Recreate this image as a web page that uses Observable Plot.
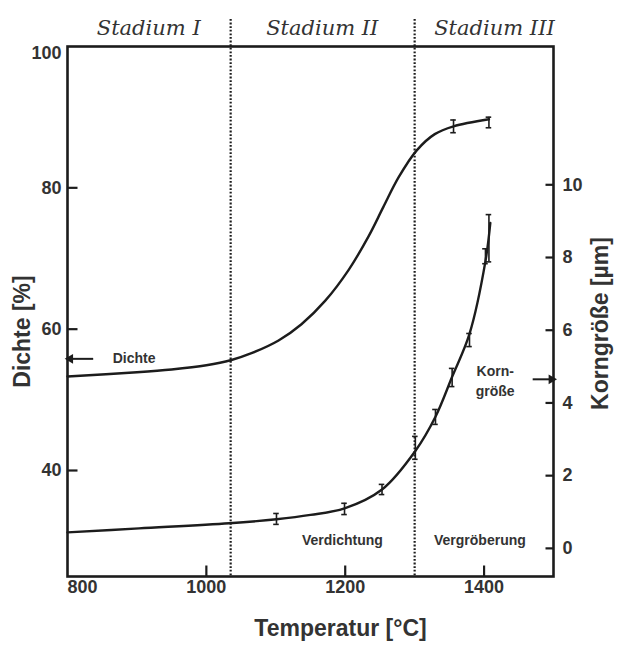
<!DOCTYPE html>
<html><head><meta charset="utf-8">
<script src="https://cdn.jsdelivr.net/npm/d3@7"></script>
<script src="https://cdn.jsdelivr.net/npm/@observablehq/plot@0.6"></script>
<style>
html,body{margin:0;padding:0;background:#fff}
</style>
</head><body><div id="chart"></div>
<script>
// ---- data ----
const densT = [800, 900, 950, 1000, 1035, 1065, 1104, 1137, 1171, 1205, 1234, 1255, 1277, 1303, 1329, 1356, 1407];
const densV = [53.3, 53.9, 54.3, 54.9, 55.6, 56.6, 58.4, 60.7, 64.0, 68.4, 73.2, 77.3, 81.5, 85.3, 87.6, 88.7, 89.7];
const densErrT = [1356, 1407];
const densErrLo = [87.8, 88.5];
const densErrHi = [89.6, 90.0];

const grainT = [800, 903, 1033, 1101, 1150, 1199, 1253, 1301, 1330, 1354, 1379, 1402, 1409];
const grainV = [0.44, 0.55, 0.69, 0.80, 0.92, 1.10, 1.62, 2.68, 3.62, 4.72, 5.9, 7.9, 8.95];
const grainErrT = [1101, 1199, 1253, 1301, 1330, 1354, 1379, 1402, 1407];
const grainErrLo = [0.66, 0.93, 1.48, 2.45, 3.41, 4.45, 5.55, 7.83, 7.88];
const grainErrHi = [0.96, 1.24, 1.76, 3.08, 3.82, 4.95, 5.91, 8.24, 9.18];

const stageNames = ["Stadium I", "Stadium II", "Stadium III"];
const stageLabelT = [917, 1167, 1415];
const stageBounds = [1035, 1300];

const xTicks = [800, 1000, 1200, 1400];
const yTicks = [40, 60, 80, 100];
const gTicks = [0, 2, 4, 6, 8, 10];

const xDomain = [800, 1500];
const yDomain = [25, 100];
// right axis (Korngröße, µm) aligned to the left axis (Dichte, %)
const gDomain = [0, 10];
const gOnD = [28.98, 80.43];

const dichteLabel = {t: 865, v: 55.8, arrowFrom: 837, arrowTo: 804};
const kornLabel = {t: 1416, g: 4.65, arrowFrom: 1470, arrowTo: 1497};
const phaseNames = ["Verdichtung", "Vergröberung"];
const phaseT = [1196, 1394];
const phaseV = 30.1;

// ---- build ----
const W = 617, H = 649, mL = 67, mR = 64, mT = 46, mB = 73;
const frameW = W - mL - mR, frameH = H - mT - mB;
const tPerPx = (xDomain[1] - xDomain[0]) / frameW;
const vPerPx = (yDomain[1] - yDomain[0]) / frameH;

const gToD = d3.scaleLinear().domain(gDomain).range(gOnD);
const dens = densT.map((t, i) => ({t, v: densV[i]}));
const grain = grainT.map((t, i) => ({t, v: gToD(grainV[i])}));
const densErr = densErrT.map((t, i) => ({t, lo: densErrLo[i], hi: densErrHi[i]}));
const grainErr = grainErrT.map((t, i) => ({t, lo: gToD(grainErrLo[i]), hi: gToD(grainErrHi[i])}));
const allErr = densErr.concat(grainErr);
const caps = allErr.flatMap(d => [{t: d.t, v: d.lo}, {t: d.t, v: d.hi}]);
const arrows = [
  {x1: dichteLabel.arrowFrom, x2: dichteLabel.arrowTo, y: dichteLabel.v, rot: -90},
  {x1: kornLabel.arrowFrom, x2: kornLabel.arrowTo, y: gToD(kornLabel.g), rot: 90}
];
// inward tick segments
const tickSegs = [
  ...xTicks.filter(t => t > xDomain[0]).map(t => ({x1: t, x2: t, y1: yDomain[0], y2: yDomain[0] + 11 * vPerPx})),
  ...yTicks.filter(v => v < yDomain[1]).map(v => ({x1: xDomain[0], x2: xDomain[0] + 10 * tPerPx, y1: v, y2: v})),
  ...gTicks.map(g => ({x1: xDomain[1] - 8 * tPerPx, x2: xDomain[1], y1: gToD(g), y2: gToD(g)}))
];

const ink = "#1c1c1c";
const txt = "#333";
const sans = "'Liberation Sans', Arial, sans-serif";

const chart = Plot.plot({
  width: W,
  height: H,
  marginLeft: mL,
  marginRight: mR,
  marginTop: mT,
  marginBottom: mB,
  x: {domain: xDomain, axis: null},
  y: {domain: yDomain, axis: null},
  style: {fontFamily: sans, fontWeight: "bold", color: txt, background: "#fff"},
  marks: [
    // stage boundaries (dotted, extending above frame)
    Plot.ruleX(stageBounds, {x: d => d, stroke: ink, strokeWidth: 2.2, strokeDasharray: "1.8 1.8", insetTop: -27}),
    // curves
    Plot.line(dens, {x: "t", y: "v", curve: "catmull-rom", stroke: ink, strokeWidth: 2.4}),
    Plot.line(grain, {x: "t", y: "v", curve: "catmull-rom", stroke: ink, strokeWidth: 2.4}),
    // error bars
    Plot.ruleX(allErr, {x: "t", y1: "lo", y2: "hi", stroke: ink, strokeWidth: 1.6}),
    Plot.ruleY(caps, {y: "v", x1: d => d.t - 4, x2: d => d.t + 4, stroke: ink, strokeWidth: 1.6}),
    // frame
    Plot.frame({stroke: ink, strokeWidth: 2.6}),
    // inward ticks
    Plot.link(tickSegs, {x1: "x1", x2: "x2", y1: "y1", y2: "y2", stroke: ink, strokeWidth: 2.2}),
    // tick labels
    Plot.text(xTicks.filter(d => d !== 800), {x: d => d, frameAnchor: "bottom", dy: 16, text: d => String(d), fontSize: 18, fill: txt}),
    Plot.text(xTicks.filter(d => d === 800), {x: d => d, frameAnchor: "bottom", dy: 16, dx: 15, text: d => String(d), fontSize: 18, fill: txt}),
    Plot.text(yTicks.filter(d => d !== 100), {y: d => d, frameAnchor: "left", dx: -6, textAnchor: "end", text: d => String(d), fontSize: 18, fill: txt}),
    Plot.text(yTicks.filter(d => d === 100), {y: d => d, frameAnchor: "left", dx: -6, dy: 7, textAnchor: "end", text: d => String(d), fontSize: 18, fill: txt}),
    Plot.text(gTicks, {y: d => gToD(d), frameAnchor: "right", dx: 9, textAnchor: "start", text: d => String(d), fontSize: 18, fill: txt}),
    // axis titles
    Plot.text(["Temperatur [°C]"], {frameAnchor: "bottom", dx: 30, dy: 59, textAnchor: "middle", text: d => d, fontSize: 23, fill: txt}),
    Plot.text(["Dichte [%]"], {frameAnchor: "left", dx: -45, dy: 20, rotate: -90, textAnchor: "middle", text: d => d, fontSize: 23, fill: txt}),
    Plot.text(["Korngröße [µm]"], {frameAnchor: "right", dx: 47, dy: 12, rotate: -90, textAnchor: "middle", text: d => d, fontSize: 23, fill: txt}),
    // stage labels
    Plot.text(stageNames, {x: (d, i) => stageLabelT[i], frameAnchor: "top", dy: -26, text: d => d,
      fontFamily: "'DejaVu Serif', serif", fontStyle: "italic", fontWeight: "normal", fontSize: 21, fill: txt}),
    // annotations
    Plot.text(["Dichte"], {x: () => dichteLabel.t, y: () => dichteLabel.v, textAnchor: "start", text: d => d, fontSize: 14, fill: txt}),
    Plot.text(["Korn-\ngröße"], {x: () => kornLabel.t, y: () => gToD(kornLabel.g), text: d => d, fontSize: 14, lineHeight: 1.43, fill: txt}),
    Plot.link(arrows, {x1: "x1", x2: "x2", y1: "y", y2: "y", stroke: ink, strokeWidth: 2}),
    Plot.dot(arrows, {x: "x2", y: "y", symbol: "triangle", r: 3.6, rotate: "rot", fill: ink, stroke: null}),
    Plot.text(phaseNames, {x: (d, i) => phaseT[i], y: () => phaseV, text: d => d, fontSize: 14, fill: txt})
  ]
});
document.getElementById("chart").appendChild(chart);
</script>
</body></html>
